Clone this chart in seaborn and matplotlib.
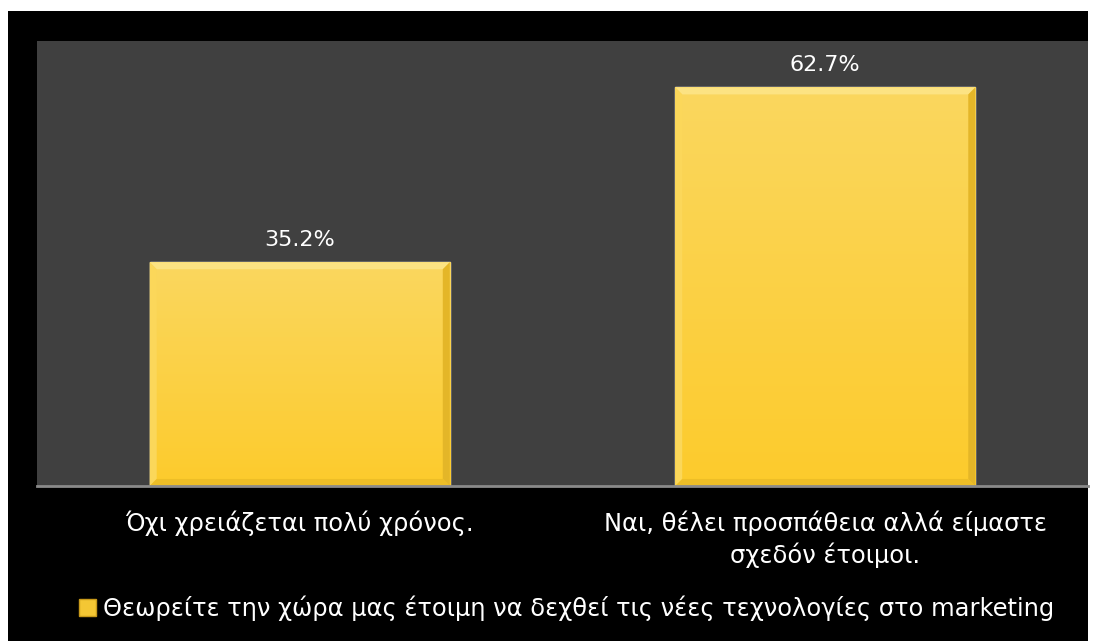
import numpy as np
import pandas as pd
import matplotlib
matplotlib.use("Agg")
import matplotlib.pyplot as plt
import matplotlib.patches as mpatches
from matplotlib.colors import LinearSegmentedColormap
import seaborn as sns

# Survey answers and their shares (%)
categories = ["Όχι χρειάζεται πολύ χρόνος.",
              "Ναι, θέλει προσπάθεια αλλά είμαστε\nσχεδόν έτοιμοι."]
values = [35.2, 62.7]
series_name = "Θεωρείτε την χώρα μας έτοιμη να δεχθεί τις νέες τεχνολογίες στο marketing"

df = pd.DataFrame({"answer": categories, "share": values})

sns.set_theme(style="dark")
plt.rcParams["font.family"] = ["DejaVu Sans"]

FS = 17.4
FS_VAL = 16
W, H = 1105, 641
fig = plt.figure(figsize=(W / 100, H / 100), dpi=100, facecolor="white")

# black chart area
fig.patches.append(mpatches.Rectangle((8 / W, 0), (1088 - 8) / W, (H - 11) / H,
                                      transform=fig.transFigure, facecolor="black",
                                      edgecolor="none", zorder=-10))

ax = fig.add_axes([37 / W, (H - 486) / H, (1088 - 37) / W, (486 - 41) / H])
ax.set_facecolor("#404040")

bar_color = "#FAD047"
sns.barplot(data=df, x="answer", y="share", color=bar_color, width=0.571,
            saturation=1, ax=ax, zorder=2)

ax.set_xlim(-0.5, 1.5)
ax.set_ylim(0, 70)
ax.set_yticks([])
ax.set_xlabel("")
ax.set_ylabel("")
ax.grid(False)
for side in ["top", "left", "right"]:
    ax.spines[side].set_visible(False)
ax.spines["bottom"].set_visible(True)
ax.spines["bottom"].set_color("#8a8a8a")
ax.spines["bottom"].set_linewidth(2)
ax.spines["bottom"].set_zorder(4)

ax.set_xticks(range(len(categories)))
ax.set_xticklabels(categories, color="white", fontsize=FS, linespacing=1.3)
ax.tick_params(axis="x", length=0, pad=18)

# vertical gradient fill and bevelled edges on each bar
grad = LinearSegmentedColormap.from_list("bar", ["#FDCB2C", "#FAD75F"])
for patch, v in zip(ax.patches, values):
    x0, y0 = patch.get_x(), patch.get_y()
    w, h = patch.get_width(), patch.get_height()
    img = ax.imshow(np.linspace(0, 1, 256).reshape(-1, 1), cmap=grad, origin="lower",
                    extent=[x0, x0 + w, y0, y0 + h], aspect="auto", zorder=2.5)
    img.set_clip_path(patch)
    # bevel width expressed in data units (about 7 px)
    bx = 7 / 525.5
    by = 7 / 6.34
    x1, y1 = x0 + w, y0 + h
    bevels = [
        ([(x0, y1), (x1, y1), (x1 - bx, y1 - by), (x0 + bx, y1 - by)], "#FCE383"),
        ([(x0, y0), (x0 + bx, y0 + by), (x0 + bx, y1 - by), (x0, y1)], "#FBD75A"),
        ([(x1, y0), (x1, y1), (x1 - bx, y1 - by), (x1 - bx, y0 + by)], "#E4B628"),
        ([(x0, y0), (x1, y0), (x1 - bx, y0 + by), (x0 + bx, y0 + by)], "#EDBE27"),
    ]
    for pts, c in bevels:
        ax.add_patch(mpatches.Polygon(pts, closed=True, facecolor=c, edgecolor="none",
                                      zorder=3))
    ax.annotate(f"{v:.1f}%", (x0 + w / 2, y1), xytext=(0, 9), textcoords="offset points",
                ha="center", va="bottom", color="white", fontsize=FS_VAL)

handle = mpatches.Patch(facecolor="#F4C734", edgecolor="#C89A1A", linewidth=1)
fig.legend([handle], [series_name], loc="center", bbox_to_anchor=(567 / W, 1 - 608 / H),
           frameon=False, fontsize=FS, labelcolor="white", handlelength=0.7,
           handleheight=0.7, handletextpad=0.3, borderpad=0)

fig.savefig("out.png", dpi=100, facecolor=fig.get_facecolor())
